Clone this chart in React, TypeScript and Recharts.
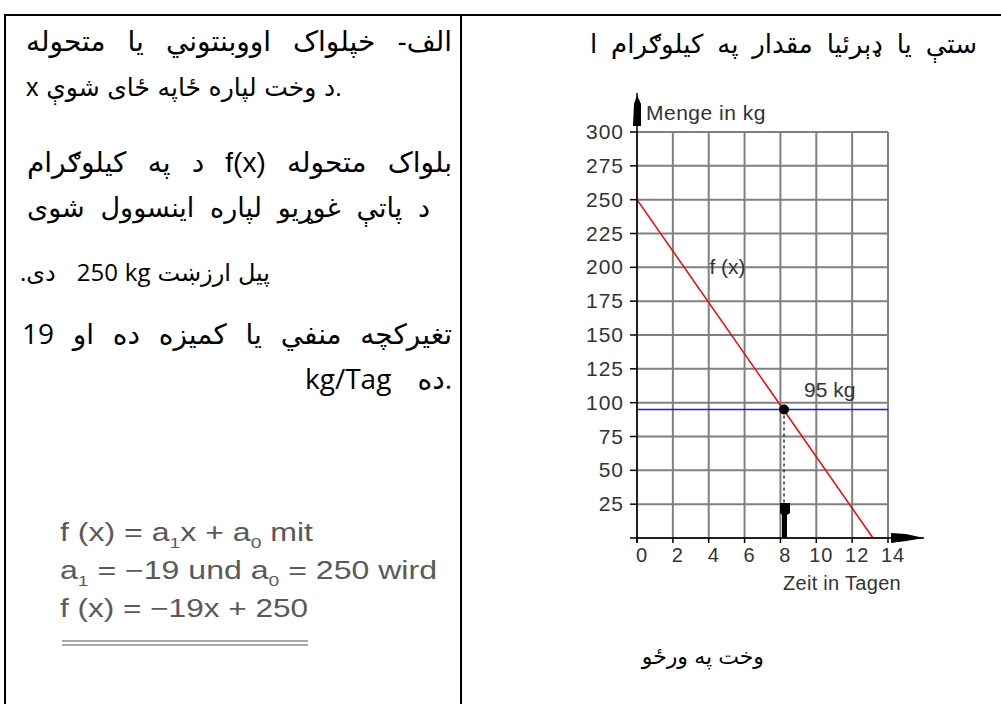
import React from "react";
import {
  ComposedChart, Line, XAxis, YAxis, CartesianGrid, ReferenceLine, ReferenceDot,
} from "recharts";

// chart values
const dayTicks = [0, 2, 4, 6, 8, 10, 12, 14];
const kgTicks = [25, 50, 75, 100, 125, 150, 175, 200, 225, 250, 275, 300];
const stockLine = [
  { day: 0, kg: 250 },
  { day: 13.16, kg: 0 },
];
const restKg = 95;
const restDay = 8.2;
const fxLabelAt = { day: 5.05, kg: 200 };
const restLabelAt = { day: 10.75, kg: 109 };

const arialish = "Liberation Sans, Arial, DejaVu Sans, sans-serif";
const calibriish = "Open Sans, DejaVu Sans, sans-serif";

// page texts in reading order; "~" marks a token kept left-to-right; each line is justified across its width
const leftLines = [
  { words: ["الف-", "خپلواک", "اووبنتوني", "یا", "متحوله"], dir: "rtl", x: 26, w: 426, y: 52, size: 28, font: arialish },
  { words: ["x د وخت لپاره ځاپه ځای شوې."], dir: "ltr", x: 26, w: 316, y: 96, size: 25, font: arialish },
  { words: ["بلواک", "متحوله", "~f(x)", "د", "په", "کیلوګرام"], dir: "rtl", x: 27, w: 425, y: 173, size: 28, font: arialish },
  { words: ["د", "پاتې", "غوړیو", "لپاره", "اینسوول", "شوی"], dir: "rtl", x: 27, w: 403, y: 218, size: 27, font: arialish },
  { words: ["پیل", "ارزښت", "~250 kg", "\u00A0", "دی."], dir: "rtl", x: 20, w: 250, y: 281, size: 24, font: calibriish },
  { words: ["تغیرکچه", "منفي", "یا", "کمیزه", "ده", "او", "19"], dir: "rtl", x: 22, w: 430, y: 344, size: 28, font: calibriish },
  { words: ["kg/Tag", "ده."], dir: "ltr", x: 305, w: 147, y: 389, size: 28, font: calibriish },
];
const rightLines = [
  { words: ["ستې", "یا", "ډېرئیا", "مقدار", "په", "کیلوګرام", "ا"], dir: "rtl", x: 590, w: 387, y: 53, size: 26, font: arialish },
  { words: ["وخت", "په", "ورځو"], dir: "rtl", x: 652, w: 112, y: 665, size: 22, font: arialish },
];

const tickFont = "Liberation Sans, Arial, sans-serif";

function DayTick({ x, y, payload }: any) {
  return (
    <text x={x + 5} y={y + 17} textAnchor="middle" fontSize={20} letterSpacing={1} fill="#333" fontFamily={tickFont}>
      {payload.value}
    </text>
  );
}

function KgTick({ x, y, payload }: any) {
  return (
    <text x={x} y={y + 7} textAnchor="end" fontSize={21} letterSpacing={1} fill="#333" fontFamily={tickFont}>
      {payload.value}
    </text>
  );
}

function YArrow({ cx, cy }: any) {
  return (
    <g>
      <line x1={cx} y1={cy} x2={cx} y2={cy - 39} stroke="#000" strokeWidth={1.5} />
      <polygon
        points={`${cx - 4},${cy - 6} ${cx + 4},${cy - 6} ${cx + 4},${cy - 28} ${cx},${cy - 37} ${cx - 3},${cy - 28}`}
        fill="#000"
      />
      <text x={cx + 9} y={cy - 12} fontSize={21} letterSpacing={0.5} fill="#333" fontFamily={tickFont}>Menge in kg</text>
    </g>
  );
}

function XArrow({ cx, cy }: any) {
  return (
    <g>
      <line x1={cx} y1={cy} x2={cx + 36} y2={cy} stroke="#000" strokeWidth={1.5} />
      <polygon
        points={`${cx + 3},${cy - 5} ${cx + 18},${cy - 4} ${cx + 36},${cy} ${cx + 18},${cy + 3} ${cx + 3},${cy + 5}`}
        fill="#000"
      />
      <text x={cx - 46} y={cy + 52} textAnchor="middle" fontSize={20} letterSpacing={0.3} fill="#333" fontFamily={tickFont}>Zeit in Tagen</text>
    </g>
  );
}

function Origin({ cx, cy }: any) {
  return (
    <g>
      <line x1={cx - 7} y1={cy} x2={cx} y2={cy} stroke="#000" strokeWidth={1.5} />
      <line x1={cx} y1={cy} x2={cx} y2={cy + 5} stroke="#000" strokeWidth={1.5} />
    </g>
  );
}

function DayArrow({ cx, cy }: any) {
  return (
    <polygon
      points={`${cx - 4},${cy - 35} ${cx + 6},${cy - 35} ${cx + 6},${cy - 25} ${cx + 3},${cy - 23} ${cx + 3},${cy} ${cx - 2},${cy} ${cx - 2},${cy - 23} ${cx - 4},${cy - 25}`}
      fill="#000"
    />
  );
}

function TextMark(label: string) {
  return ({ cx, cy }: any) => (
    <text x={cx} y={cy + 7} textAnchor="middle" fontSize={21} fill="#333" fontFamily={tickFont}>{label}</text>
  );
}

type PageLine = { words: string[]; dir: string; x: number; w: number; y: number; size: number; font: string };

function TextLine({ line }: { line: PageLine }) {
  const ascent = line.font === calibriish ? 0.89 : 0.85;
  return (
    <div
      dir={line.dir}
      style={{
        position: "absolute",
        left: line.x,
        top: line.y - ascent * line.size,
        width: line.w,
        textAlign: "justify",
        textAlignLast: "justify",
        fontSize: line.size,
        fontFamily: line.font,
        lineHeight: 1,
        whiteSpace: "nowrap",
        color: "#000",
      }}
    >
      {line.words.map((w, i) => (
        <React.Fragment key={i}>
          {i > 0 ? " " : null}
          {w.startsWith("~") ? <bdi dir="ltr">{w.slice(1)}</bdi> : <span>{w}</span>}
        </React.Fragment>
      ))}
    </div>
  );
}

function Page() {
  const formula = { fill: "#5a5a5a", fontFamily: "Liberation Sans, Arial, sans-serif", fontSize: 25 };
  return (
    <>
      <svg width={1001} height={704} style={{ position: "absolute", left: 0, top: 0 }}>
        <rect x={0} y={0} width={1001} height={704} fill="#fff" />
        <line x1={4} y1={15} x2={1001} y2={15} stroke="#000" strokeWidth={2} />
        <line x1={5} y1={14} x2={5} y2={704} stroke="#000" strokeWidth={2} />
        <line x1={461} y1={14} x2={461} y2={704} stroke="#000" strokeWidth={2} />
        <text x={60} y={541} textLength={253} lengthAdjust="spacingAndGlyphs" {...formula}>
          f (x) = a<tspan fontSize={15} dy={7}>1</tspan><tspan dy={-7}>x + a</tspan><tspan fontSize={15} dy={7}>0</tspan><tspan dy={-7}>  mit</tspan>
        </text>
        <text x={60} y={579} textLength={377} lengthAdjust="spacingAndGlyphs" {...formula}>
          a<tspan fontSize={15} dy={7}>1</tspan><tspan dy={-7}> = −19 und a</tspan><tspan fontSize={15} dy={7}>0</tspan><tspan dy={-7}> = 250 wird</tspan>
        </text>
        <text x={60} y={617} textLength={248} lengthAdjust="spacingAndGlyphs" {...formula}>
          f (x) = −19x + 250
        </text>
        <line x1={62} y1={641} x2={308} y2={641} stroke="#555" strokeWidth={1.2} />
        <line x1={62} y1={645} x2={308} y2={645} stroke="#555" strokeWidth={1.2} />
      </svg>
      {[...leftLines, ...rightLines].map((l, i) => (
        <TextLine key={i} line={l} />
      ))}
    </>
  );
}

export default function App() {
  return (
    <div style={{ position: "absolute", left: 0, top: 0, width: 1001, height: 704, background: "#fff", overflow: "hidden" }}>
      <Page />
      <div style={{ position: "absolute", left: 560, top: 90, width: 400, height: 520 }}>
        <ComposedChart width={400} height={520} data={stockLine} margin={{ top: 42, right: 72, bottom: 42, left: 0 }}>
          <CartesianGrid stroke="#808080" strokeWidth={2} />
          <XAxis
            dataKey="day"
            type="number"
            domain={[0, 14]}
            ticks={dayTicks}
            height={30}
            tickSize={5}
            tick={<DayTick />}
            axisLine={{ stroke: "#000", strokeWidth: 1.5 }}
            tickLine={{ stroke: "#000", strokeWidth: 1.5 }}
          />
          <YAxis
            type="number"
            domain={[0, 300]}
            ticks={kgTicks}
            width={77}
            tickSize={7}
            tickMargin={6}
            tick={<KgTick />}
            axisLine={{ stroke: "#000", strokeWidth: 1.5 }}
            tickLine={{ stroke: "#000", strokeWidth: 1.5 }}
          />
          <ReferenceLine y={restKg} stroke="#1a1aff" strokeWidth={1.5} />
          <Line dataKey="kg" type="linear" stroke="#ff0000" strokeWidth={1.5} dot={false} isAnimationActive={false} />
          <ReferenceLine
            segment={[{ x: restDay, y: restKg }, { x: restDay, y: 0 }]}
            stroke="#000"
            strokeWidth={1.2}
            strokeDasharray="3 3"
          />
          <ReferenceDot x={restDay} y={restKg} r={5} fill="#000" stroke="none" />
          <ReferenceDot x={restDay} y={0} shape={DayArrow} ifOverflow="visible" />
          <ReferenceDot x={0} y={300} shape={YArrow} ifOverflow="visible" />
          <ReferenceDot x={14} y={0} shape={XArrow} ifOverflow="visible" />
          <ReferenceDot x={0} y={0} shape={Origin} ifOverflow="visible" />
          <ReferenceDot x={fxLabelAt.day} y={fxLabelAt.kg} shape={TextMark("f (x)")} ifOverflow="visible" />
          <ReferenceDot x={restLabelAt.day} y={restLabelAt.kg} shape={TextMark(`${restKg} kg`)} ifOverflow="visible" />
        </ComposedChart>
      </div>
    </div>
  );
}
